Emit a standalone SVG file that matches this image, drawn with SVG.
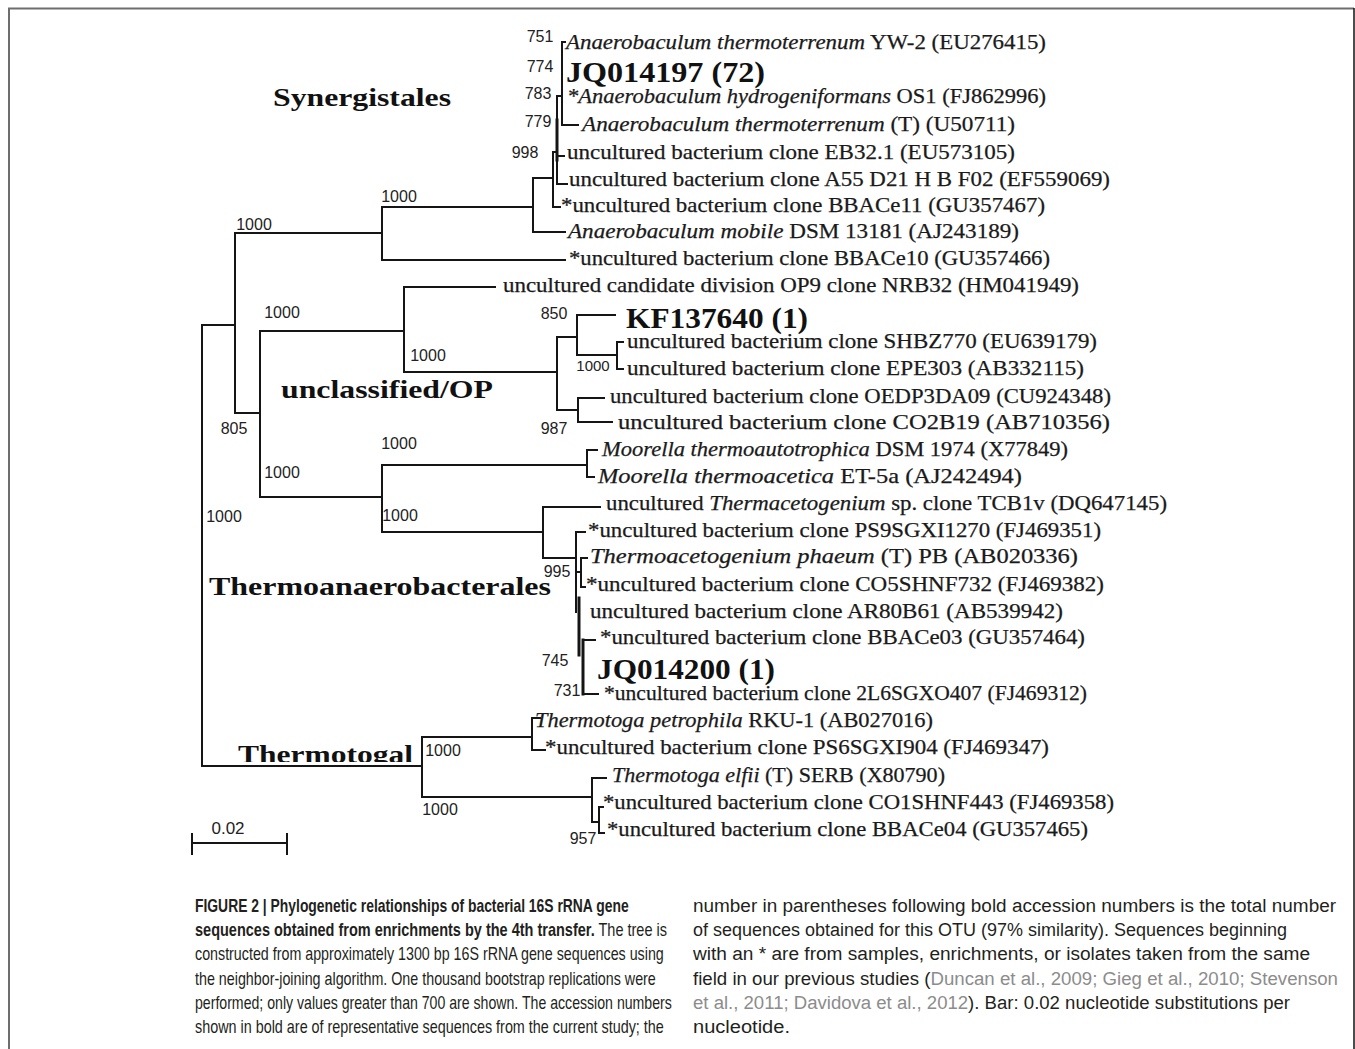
<svg xmlns="http://www.w3.org/2000/svg" width="1355" height="1049" viewBox="0 0 1355 1049">
<style>
.br{fill:none;stroke:#151515;stroke-width:2;stroke-linecap:square}
.thick{stroke-width:3}
.lf{font-family:"Liberation Serif",serif;font-size:21px;fill:#1a1a1a;stroke:#1a1a1a;stroke-width:0.25}
.it{font-style:italic}
.acc{font-family:"Liberation Serif",serif;font-size:30px;font-weight:bold;fill:#111}
.grp{font-family:"Liberation Serif",serif;font-size:26px;font-weight:bold;fill:#111}
.bs{font-family:"Liberation Sans",sans-serif;font-size:16px;fill:#222;text-anchor:middle}
.cap{font-family:"Liberation Sans",sans-serif;font-size:18px;fill:#231f20}
.b{font-weight:bold}
.ref{fill:#8c8c8c}
</style>
<defs>
<clipPath id="clipT"><rect x="230" y="720" width="200" height="42"/></clipPath>
</defs>
<rect width="1355" height="1049" fill="#ffffff"/>
<g id="frame">
<path d="M9 1049 V8.5 H1354" fill="none" stroke="#6e6e6e" stroke-width="2"/>
<path d="M1354 8 V1049" fill="none" stroke="#111" stroke-width="1.5"/>
</g>
<g id="branches">
<path class="br" d="M202 325 V766 M202 325 H235 M202 766 H422"/>
<path class="br" d="M235 233 V413 M235 233 H382 M235 413 H260"/>
<path class="br" d="M382 207 V260 M382 260 H565 M382 207 H533"/>
<path class="br" d="M533 178 V232 M533 232 H565 M533 178 H553"/>
<path class="br" d="M553 152 V207 M553 207 H560 M553 152 H557"/>
<path class="br" d="M557 96 V184 M557 156 H564 M557 184 H567 M557 96 H562"/>
<path class="br thick" d="M557 120 V160"/>
<path class="br" d="M562 42 V125 M562 42 H565 M562 125 H578"/>
<path class="br" d="M260 331 V497 M260 331 H404 M260 497 H382"/>
<path class="br" d="M404 287 V372 M404 287 H495 M404 372 H557"/>
<path class="br" d="M557 337 V410 M557 337 H577 M557 410 H578"/>
<path class="br" d="M577 315 V355 M577 315 H615 M577 355 H617"/>
<path class="br" d="M617 342 V369 M617 342 H623 M617 369 H623"/>
<path class="br" d="M578 398 V422 M578 398 H604 M578 422 H612"/>
<path class="br" d="M382 465 V532 M382 465 H587 M382 532 H543"/>
<path class="br" d="M587 450 V477 M587 450 H597 M587 477 H594"/>
<path class="br" d="M543 507 V558 M543 507 H600 M543 558 H576"/>
<path class="br" d="M576 532 V612 M576 532 H585 M576 572 H581"/>
<path class="br" d="M581 558 V587 M581 558 H587 M581 587 H585"/>
<path class="br thick" d="M579 598 V655"/>
<path class="br thick" d="M583 640 V694"/>
<path class="br" d="M583 640 H595 M583 694 H598"/>
<path class="br" d="M422 737 V797 M422 737 H532 M422 797 H592"/>
<path class="br" d="M532 718 V750 M532 718 H540 M532 750 H545"/>
<path class="br" d="M592 778 V822 M592 778 H606 M592 822 H599"/>
<path class="br" d="M599 807 V833 M599 807 H603 M599 833 H604"/>
<path class="br" d="M192 843 H287 M192 834 V854 M287 834 V854"/>
</g>
<g id="groups">
<text id="g-syn" class="grp" x="273" y="106" textLength="178" lengthAdjust="spacingAndGlyphs">Synergistales</text>
<text id="g-op" class="grp" x="281" y="398" textLength="212" lengthAdjust="spacingAndGlyphs">unclassified/OP</text>
<text id="g-tab" class="grp" x="209" y="595" textLength="342" lengthAdjust="spacingAndGlyphs">Thermoanaerobacterales</text>
<text id="g-tt" class="grp" x="238" y="763" textLength="175" lengthAdjust="spacingAndGlyphs" clip-path="url(#clipT)">Thermotogal</text>
</g>
<g id="leaves">
<g id="l1"><text class="lf" x="566" y="49" textLength="480" lengthAdjust="spacingAndGlyphs"><tspan class="it">Anaerobaculum thermoterrenum</tspan> YW-2 (EU276415)</text></g>
<g id="l2"><text class="acc" x="566" y="82" textLength="199" lengthAdjust="spacingAndGlyphs">JQ014197 (72)</text></g>
<g id="l3"><text class="lf" x="567" y="103" textLength="479" lengthAdjust="spacingAndGlyphs"><tspan class="it">*Anaerobaculum hydrogeniformans</tspan> OS1 (FJ862996)</text></g>
<g id="l4"><text class="lf" x="582" y="131" textLength="433" lengthAdjust="spacingAndGlyphs"><tspan class="it">Anaerobaculum thermoterrenum</tspan> (T) (U50711)</text></g>
<g id="l5"><text class="lf" x="567" y="159" textLength="448" lengthAdjust="spacingAndGlyphs">uncultured bacterium clone EB32.1 (EU573105)</text></g>
<g id="l6"><text class="lf" x="569" y="186" textLength="541" lengthAdjust="spacingAndGlyphs">uncultured bacterium clone A55 D21 H B F02 (EF559069)</text></g>
<g id="l7"><text class="lf" x="561" y="212" textLength="484" lengthAdjust="spacingAndGlyphs">*uncultured bacterium clone BBACe11 (GU357467)</text></g>
<g id="l8"><text class="lf" x="568" y="238" textLength="451" lengthAdjust="spacingAndGlyphs"><tspan class="it">Anaerobaculum mobile</tspan> DSM 13181 (AJ243189)</text></g>
<g id="l9"><text class="lf" x="569" y="265" textLength="481" lengthAdjust="spacingAndGlyphs">*uncultured bacterium clone BBACe10 (GU357466)</text></g>
<g id="l10"><text class="lf" x="503" y="292" textLength="576" lengthAdjust="spacingAndGlyphs">uncultured candidate division OP9 clone NRB32 (HM041949)</text></g>
<g id="l11"><text class="acc" x="626" y="328" textLength="182" lengthAdjust="spacingAndGlyphs">KF137640 (1)</text></g>
<g id="l12"><text class="lf" x="627" y="348" textLength="470" lengthAdjust="spacingAndGlyphs">uncultured bacterium clone SHBZ770 (EU639179)</text></g>
<g id="l13"><text class="lf" x="627" y="375" textLength="457" lengthAdjust="spacingAndGlyphs">uncultured bacterium clone EPE303 (AB332115)</text></g>
<g id="l14"><text class="lf" x="610" y="403" textLength="501" lengthAdjust="spacingAndGlyphs">uncultured bacterium clone OEDP3DA09 (CU924348)</text></g>
<g id="l15"><text class="lf" x="618" y="429" textLength="492" lengthAdjust="spacingAndGlyphs">uncultured bacterium clone CO2B19 (AB710356)</text></g>
<g id="l16"><text class="lf" x="602" y="456" textLength="466" lengthAdjust="spacingAndGlyphs"><tspan class="it">Moorella thermoautotrophica</tspan> DSM 1974 (X77849)</text></g>
<g id="l17"><text class="lf" x="598" y="483" textLength="424" lengthAdjust="spacingAndGlyphs"><tspan class="it">Moorella thermoacetica</tspan> ET-5a (AJ242494)</text></g>
<g id="l18"><text class="lf" x="606" y="510" textLength="561" lengthAdjust="spacingAndGlyphs">uncultured <tspan class="it">Thermacetogenium</tspan> sp. clone TCB1v (DQ647145)</text></g>
<g id="l19"><text class="lf" x="588" y="537" textLength="513" lengthAdjust="spacingAndGlyphs">*uncultured bacterium clone PS9SGXI1270 (FJ469351)</text></g>
<g id="l20"><text class="lf" x="590" y="563" textLength="488" lengthAdjust="spacingAndGlyphs"><tspan class="it">Thermoacetogenium phaeum</tspan> (T) PB (AB020336)</text></g>
<g id="l21"><text class="lf" x="586" y="591" textLength="518" lengthAdjust="spacingAndGlyphs">*uncultured bacterium clone CO5SHNF732 (FJ469382)</text></g>
<g id="l22"><text class="lf" x="590" y="618" textLength="473" lengthAdjust="spacingAndGlyphs">uncultured bacterium clone AR80B61 (AB539942)</text></g>
<g id="l23"><text class="lf" x="600" y="644" textLength="485" lengthAdjust="spacingAndGlyphs">*uncultured bacterium clone BBACe03 (GU357464)</text></g>
<g id="l24"><text class="acc" x="597" y="679" textLength="178" lengthAdjust="spacingAndGlyphs">JQ014200 (1)</text></g>
<g id="l25"><text class="lf" x="604" y="700" textLength="483" lengthAdjust="spacingAndGlyphs">*uncultured bacterium clone 2L6SGXO407 (FJ469312)</text></g>
<g id="l26"><text class="lf" x="535" y="727" textLength="398" lengthAdjust="spacingAndGlyphs"><tspan class="it">Thermotoga petrophila</tspan> RKU-1 (AB027016)</text></g>
<g id="l27"><text class="lf" x="545" y="754" textLength="504" lengthAdjust="spacingAndGlyphs">*uncultured bacterium clone PS6SGXI904 (FJ469347)</text></g>
<g id="l28"><text class="lf" x="612" y="782" textLength="333" lengthAdjust="spacingAndGlyphs"><tspan class="it">Thermotoga elfii</tspan> (T) SERB (X80790)</text></g>
<g id="l29"><text class="lf" x="603" y="809" textLength="511" lengthAdjust="spacingAndGlyphs">*uncultured bacterium clone CO1SHNF443 (FJ469358)</text></g>
<g id="l30"><text class="lf" x="607" y="836" textLength="481" lengthAdjust="spacingAndGlyphs">*uncultured bacterium clone BBACe04 (GU357465)</text></g>
</g>
<g id="bootstrap">
<text class="bs" x="540" y="42">751</text>
<text class="bs" x="540" y="72">774</text>
<text class="bs" x="538" y="99">783</text>
<text class="bs" x="538" y="127">779</text>
<text class="bs" x="525" y="158">998</text>
<text class="bs" x="399" y="202">1000</text>
<text class="bs" x="254" y="230">1000</text>
<text class="bs" x="282" y="318">1000</text>
<text class="bs" x="428" y="361">1000</text>
<text class="bs" x="234" y="434">805</text>
<text class="bs" x="554" y="319">850</text>
<text class="bs" x="593" y="371" style="font-size:15px">1000</text>
<text class="bs" x="554" y="434">987</text>
<text class="bs" x="399" y="449">1000</text>
<text class="bs" x="282" y="478">1000</text>
<text class="bs" x="400" y="521">1000</text>
<text class="bs" x="557" y="577">995</text>
<text class="bs" x="555" y="666">745</text>
<text class="bs" x="567" y="696">731</text>
<text class="bs" x="224" y="522">1000</text>
<text class="bs" x="443" y="756">1000</text>
<text class="bs" x="440" y="815">1000</text>
<text class="bs" x="583" y="844">957</text>
<text class="bs" x="228" y="834" style="font-size:17px">0.02</text>
</g>
<g id="caption">
<g transform="translate(195,0) scale(0.8,1)">
<text class="cap b" x="0" y="912" textLength="542" lengthAdjust="spacingAndGlyphs">FIGURE 2 | Phylogenetic relationships of bacterial 16S rRNA gene</text>
<text class="cap" x="0" y="936" textLength="590" lengthAdjust="spacingAndGlyphs"><tspan class="b">sequences obtained from enrichments by the 4th transfer.</tspan> The tree is</text>
<text class="cap" x="0" y="960" textLength="586" lengthAdjust="spacingAndGlyphs">constructed from approximately 1300 bp 16S rRNA gene sequences using</text>
<text class="cap" x="0" y="985" textLength="576" lengthAdjust="spacingAndGlyphs">the neighbor-joining algorithm. One thousand bootstrap replications were</text>
<text class="cap" x="0" y="1009" textLength="596" lengthAdjust="spacingAndGlyphs">performed; only values greater than 700 are shown. The accession numbers</text>
<text class="cap" x="0" y="1033" textLength="586" lengthAdjust="spacingAndGlyphs">shown in bold are of representative sequences from the current study; the</text>
</g>
<text class="cap" x="693" y="912" textLength="643" lengthAdjust="spacingAndGlyphs">number in parentheses following bold accession numbers is the total number</text>
<text class="cap" x="693" y="936" textLength="594" lengthAdjust="spacingAndGlyphs">of sequences obtained for this OTU (97% similarity). Sequences beginning</text>
<text class="cap" x="693" y="960" textLength="617" lengthAdjust="spacingAndGlyphs">with an * are from samples, enrichments, or isolates taken from the same</text>
<text class="cap" x="693" y="985" textLength="645" lengthAdjust="spacingAndGlyphs">field in our previous studies (<tspan class="ref">Duncan et al., 2009; Gieg et al., 2010; Stevenson</tspan></text>
<text class="cap" x="693" y="1009" textLength="597" lengthAdjust="spacingAndGlyphs"><tspan class="ref">et al., 2011; Davidova et al., 2012</tspan>). Bar: 0.02 nucleotide substitutions per</text>
<text class="cap" x="693" y="1033" textLength="97" lengthAdjust="spacingAndGlyphs">nucleotide.</text>
</g>
</svg>
